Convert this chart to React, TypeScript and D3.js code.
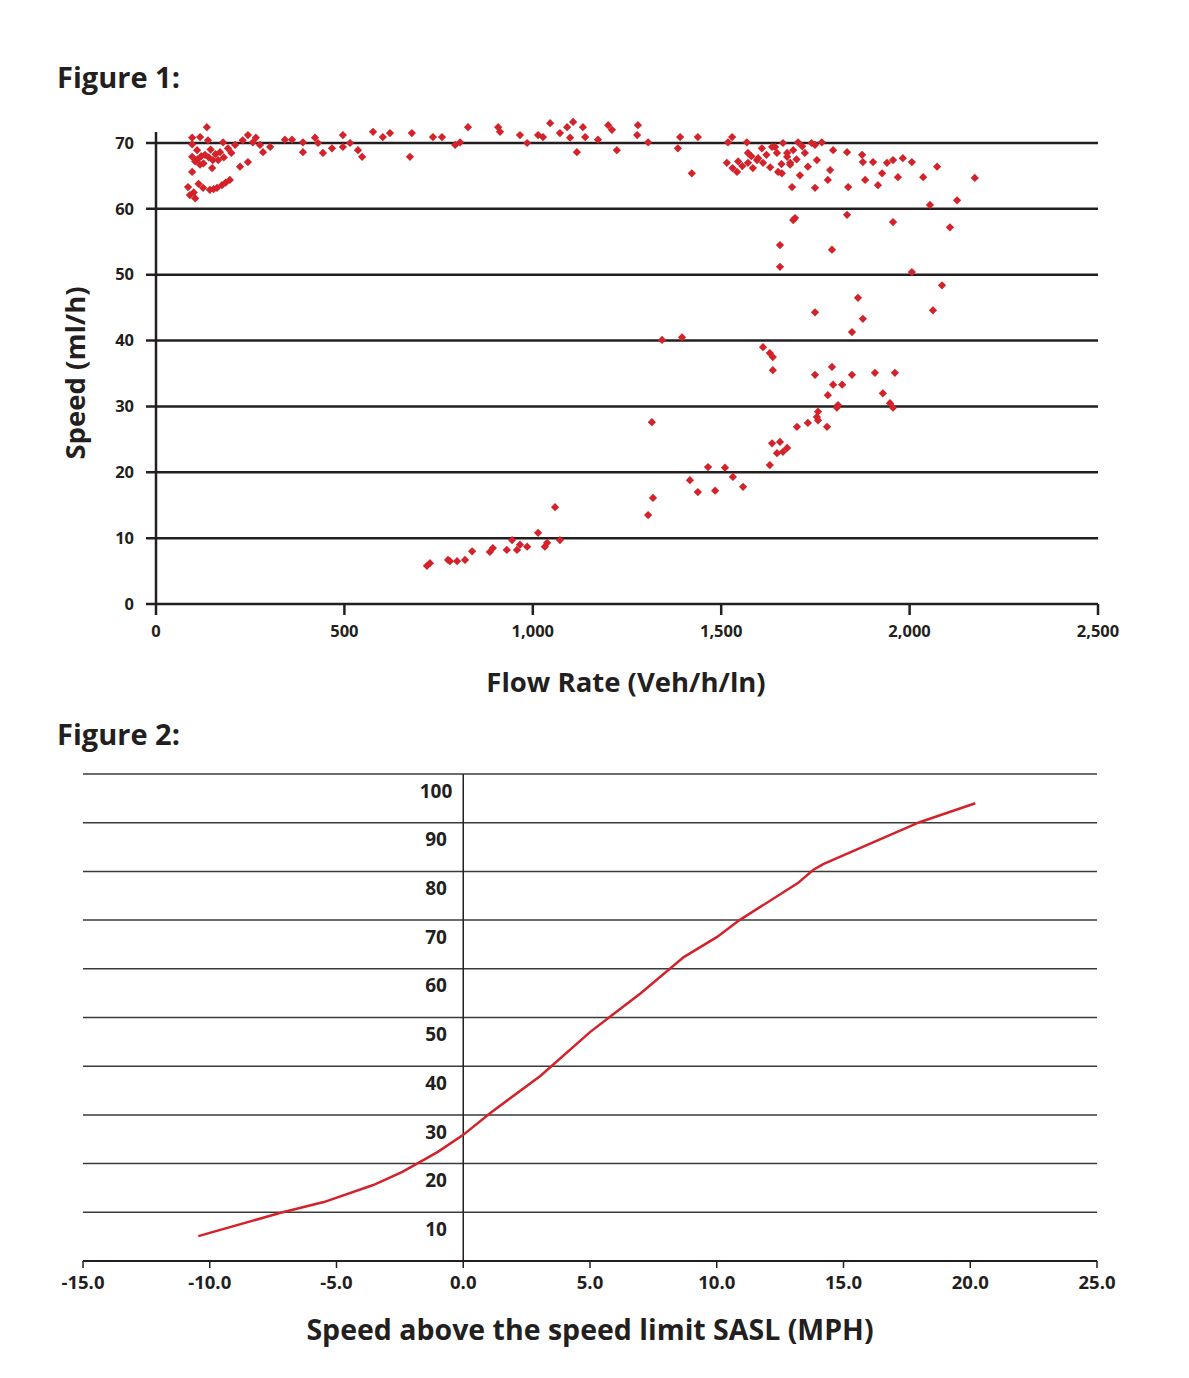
import * as d3 from 'd3';

// Figure 1: flow rate (veh/h/ln) vs speed (mi/h)
const flowSpeed: [number, number][] = [
  [135, 72.4], [96, 70.8], [117, 70.9], [138, 70.4], [178, 70.1], [151, 67.4], [96, 67.9],
  [96, 65.6], [149, 66.2], [210, 69.7], [223, 66.4], [244, 67.1], [85, 63.3], [90, 62.1],
  [104, 61.6], [125, 63.2], [162, 63.2], [196, 64.4], [143, 62.9], [175, 63.6], [109, 68.9],
  [130, 68.2], [170, 68.6], [191, 69.2], [96, 69.8], [165, 67.4], [117, 66.7], [110, 67.5],
  [100, 62.5], [113, 63.8], [185, 64.0], [153, 63.0], [120, 68.0], [140, 67.8], [158, 68.3],
  [180, 67.8], [200, 68.5], [126, 66.9], [104, 67.2], [145, 69.0], [230, 70.4], [265, 70.8],
  [244, 71.2], [257, 70.1], [276, 69.7], [284, 68.6], [303, 69.4], [342, 70.5], [361, 70.5],
  [390, 70.1], [390, 68.6], [422, 70.8], [430, 70.0], [443, 68.5], [467, 69.2], [496, 71.2],
  [496, 69.4], [515, 70.0], [536, 68.9], [547, 67.9], [576, 71.7], [602, 70.9], [621, 71.5],
  [679, 71.5], [674, 67.9], [735, 70.9], [759, 70.9], [794, 69.7], [807, 70.1], [828, 72.4],
  [908, 72.4], [913, 71.7], [966, 71.2], [985, 70.0], [1014, 71.2], [1027, 70.9], [1046, 73.0],
  [1072, 71.5], [1091, 72.4], [1107, 73.2], [1099, 70.8], [1133, 72.4], [1139, 70.9],
  [1117, 68.6], [1173, 70.5], [1200, 72.7], [1210, 72.0], [1223, 68.9], [1279, 72.7],
  [1277, 71.2], [1306, 70.1], [1391, 70.9], [1385, 69.2], [1438, 70.9], [1422, 65.4],
  [1518, 70.1], [1529, 70.9], [1515, 67.0], [1542, 65.6], [1568, 70.1], [1571, 68.5],
  [1595, 67.4], [1611, 67.0], [1584, 66.2], [1643, 69.4], [1664, 70.0], [1675, 68.5],
  [1683, 67.0], [1661, 65.4], [1688, 63.3], [1691, 58.3], [1571, 67.0], [1598, 67.7],
  [1608, 69.2], [1635, 69.4], [1648, 68.5], [1675, 67.9], [1651, 65.6], [1683, 66.7],
  [1691, 68.9], [1704, 70.1], [1709, 65.1], [1722, 68.5], [1730, 66.4], [1754, 67.4],
  [1749, 69.7], [1767, 70.1], [1749, 63.2], [1696, 58.6], [1789, 65.9], [1783, 64.4],
  [1556, 66.5], [1530, 66.2], [1620, 68.2], [1660, 66.8], [1700, 67.5], [1740, 70.0],
  [1715, 69.5], [1580, 68.0], [1630, 66.3], [1545, 67.2],
  [1797, 68.9], [1834, 68.6], [1837, 63.3], [1834, 59.1], [1874, 68.2], [1876, 67.1],
  [1882, 64.4], [1903, 67.1], [1916, 63.6], [1927, 65.4], [1940, 67.0], [1956, 67.4],
  [1982, 67.7], [2006, 67.1], [1969, 64.8], [1956, 58.0], [2036, 64.8], [2073, 66.4],
  [2054, 60.6], [2126, 61.3], [2107, 57.2], [2173, 64.7], [1656, 54.5], [1794, 53.8],
  [1656, 51.2], [2006, 50.4], [2086, 48.4], [1863, 46.5], [1749, 44.3], [1876, 43.3],
  [2062, 44.6], [1847, 41.3], [1343, 40.1], [1396, 40.5], [1611, 39.0], [1629, 38.1],
  [1637, 37.5], [1637, 35.5], [1749, 34.8], [1794, 36.0], [1847, 34.8], [1908, 35.1],
  [1961, 35.1], [1797, 33.3], [1821, 33.3], [1783, 31.7], [1929, 32.0], [1948, 30.5],
  [1956, 29.8], [1810, 30.2], [1807, 29.8], [1757, 29.2], [1754, 28.4], [1316, 27.6],
  [1757, 27.9], [1730, 27.5], [1781, 26.9], [1701, 26.9], [1635, 24.4], [1656, 24.6],
  [1648, 22.9], [1675, 23.7], [1664, 23.1], [1629, 21.1], [1465, 20.8], [1510, 20.7],
  [1531, 19.3], [1558, 17.8], [1417, 18.8], [1438, 17.0], [1484, 17.2], [1319, 16.1],
  [1306, 13.5], [1059, 14.7], [1014, 10.8], [1072, 9.7], [1038, 9.3], [1032, 8.7],
  [985, 8.7], [966, 9.0], [945, 9.7], [958, 8.2], [931, 8.2], [894, 8.5], [886, 7.9],
  [839, 8.0], [820, 6.7], [799, 6.5], [780, 6.5], [775, 6.7], [727, 6.2], [719, 5.8],
];

const flowTicks = [0, 500, 1000, 1500, 2000, 2500];
const speedTicks = [0, 10, 20, 30, 40, 50, 60, 70];

// Figure 2: speed above the speed limit vs percentage
const saslX = [-10.45, -7.2, -5.5, -3.55, -2.4, -1.0, 0, 1.07, 3.04, 5.0, 7.0, 8.7, 10.0, 10.9, 13.2, 13.8, 14.2, 16.1, 18.0, 20.2];
const saslY = [5.1, 9.9, 12.1, 15.6, 18.3, 22.4, 25.9, 30.4, 38.0, 47.0, 55.0, 62.4, 66.5, 70.0, 77.6, 80.3, 81.5, 85.8, 90.1, 94.0];
const saslTicks = [-15, -10, -5, 0, 5, 10, 15, 20, 25];
const pctTicks = [10, 20, 30, 40, 50, 60, 70, 80, 90, 100];

const RED = '#d3222a';
const INK = '#231f20';
const FONT = '"Open Sans", "DejaVu Sans", sans-serif';

export default function App() {
  const W = 1189;
  const H = 1378;

  // figure 1 scales
  const x1 = d3.scaleLinear().domain([0, 2500]).range([156, 1098]);
  const y1 = d3.scaleLinear().domain([0, 70]).range([604, 143]);
  const diamond = d3.symbol().type(d3.symbolSquare).size(34)();

  // figure 2 scales
  const x2 = d3.scaleLinear().domain([-15, 25]).range([83, 1097]);
  const y2 = d3.scaleLinear().domain([0, 100]).range([1261, 774]);
  const line2 = d3
    .line<number>()
    .x((d) => x2(d))
    .y((_, i) => y2(saslY[i]));
  const fmt1 = (t: number) => d3.format('.1f')(t).replace('\u2212', '-');

  return (
    <svg
      width={W}
      height={H}
      viewBox={`0 0 ${W} ${H}`}
      style={{ position: 'absolute', left: 0, top: 0, background: '#fff' }}
      fontFamily={FONT}
    >
      <rect width={W} height={H} fill="#fff" />

      {/* Figure 1 */}
      <text x={57} y={88} fontSize={29} fontWeight={700} fill={INK}>
        Figure 1:
      </text>

      {speedTicks.map((t) => (
        <line key={t} x1={146} x2={1098} y1={y1(t)} y2={y1(t)} stroke={INK} strokeWidth={2.5} />
      ))}
      <line x1={156} x2={156} y1={132} y2={615} stroke={INK} strokeWidth={2.5} />
      {flowTicks.slice(1).map((t) => (
        <line key={t} x1={x1(t)} x2={x1(t)} y1={604} y2={615} stroke={INK} strokeWidth={2.5} />
      ))}

      {speedTicks.map((t) => (
        <text key={t} x={134} y={y1(t)} dy="0.35em" textAnchor="end" fontSize={16.5} fontWeight={700} fill={INK}>
          {t}
        </text>
      ))}
      {flowTicks.map((t) => (
        <text key={t} x={x1(t)} y={637} textAnchor="middle" fontSize={16.5} fontWeight={700} fill={INK}>
          {d3.format(',')(t)}
        </text>
      ))}

      {flowSpeed.map(([f, s], i) => (
        <path key={i} d={diamond} transform={`translate(${x1(f)},${y1(s)}) rotate(45)`} fill={RED} />
      ))}

      <text x={626} y={692} textAnchor="middle" fontSize={27.5} fontWeight={700} fill={INK}>
        Flow Rate (Veh/h/ln)
      </text>
      <text transform="translate(85,373) rotate(-90)" textAnchor="middle" fontSize={27.5} fontWeight={700} fill={INK}>
        Speed (ml/h)
      </text>

      {/* Figure 2 */}
      <text x={57} y={745} fontSize={29} fontWeight={700} fill={INK}>
        Figure 2:
      </text>

      {pctTicks.map((t) => (
        <line key={t} x1={83} x2={1097} y1={y2(t)} y2={y2(t)} stroke="#3a3a3a" strokeWidth={1.5} />
      ))}
      <line x1={83} x2={1097} y1={y2(0)} y2={y2(0)} stroke={INK} strokeWidth={1.8} />
      <line x1={x2(0)} x2={x2(0)} y1={774} y2={1261} stroke={INK} strokeWidth={1.5} />
      {saslTicks.map((t) => (
        <line key={t} x1={x2(t)} x2={x2(t)} y1={1261} y2={1268} stroke={INK} strokeWidth={1.5} />
      ))}

      {pctTicks.map((t) => (
        <text key={t} x={436} y={y2(t) + 17} dy="0.35em" textAnchor="middle" fontSize={19} fontWeight={700} fill={INK}>
          {t}
        </text>
      ))}
      {saslTicks.map((t) => (
        <text key={t} x={x2(t)} y={1289} textAnchor="middle" fontSize={18.5} fontWeight={700} fill={INK}>
          {fmt1(t)}
        </text>
      ))}

      <path d={line2(saslX) ?? ''} fill="none" stroke={RED} strokeWidth={2.5} />

      <text x={590} y={1340} textAnchor="middle" fontSize={28.5} fontWeight={700} fill={INK}>
        Speed above the speed limit SASL (MPH)
      </text>
    </svg>
  );
}
